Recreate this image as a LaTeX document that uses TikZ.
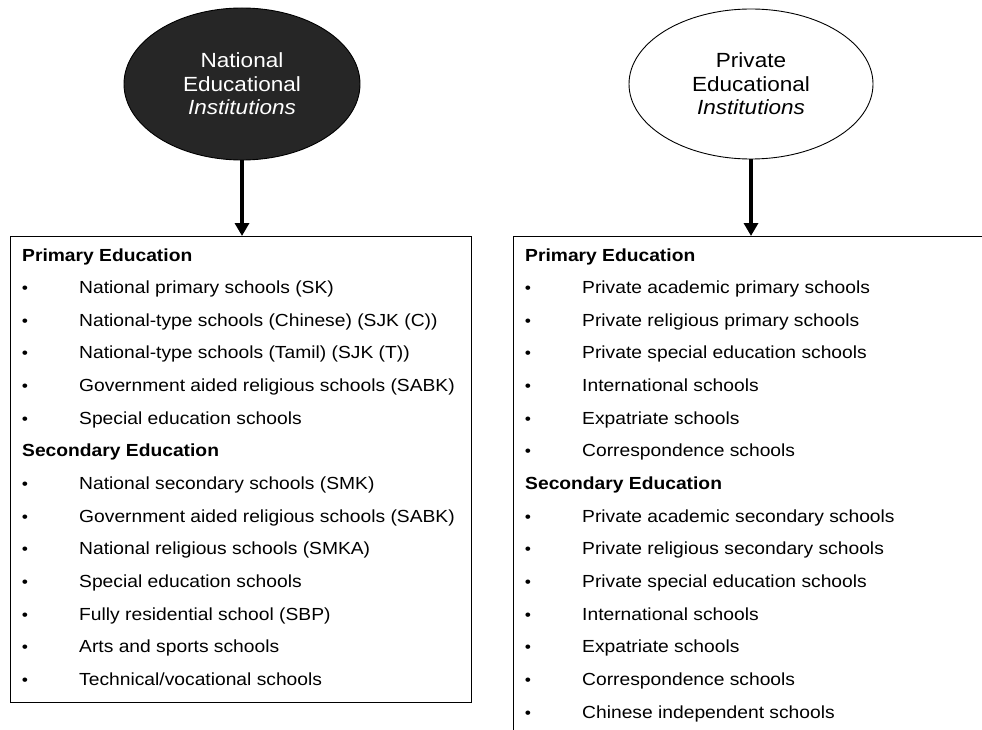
\documentclass[tikz,border=0pt]{standalone}
\usepackage{fontspec}
\setmainfont{Liberation Sans}[FakeStretch=1.1]
\usetikzlibrary{shapes.geometric,arrows.meta}
\begin{document}
\begin{tikzpicture}[x=1pt,y=-1pt,
  item/.style={anchor=base west,inner sep=0pt,font=\fontsize{17.5}{20}\selectfont},
  head/.style={anchor=base west,inner sep=0pt,font=\fontsize{17.5}{20}\selectfont\bfseries},
  bul/.style={anchor=base,inner sep=0pt,font=\fontsize{16}{18}\selectfont},
  listbox/.style={draw,line width=1.2pt,anchor=north west,inner sep=0pt},
  inst/.style={ellipse,draw,line width=0.9pt,inner sep=0pt,align=center,
    minimum width=236pt,minimum height=152pt,
    font=\fontsize{20.5}{23.5}\selectfont},
  arr/.style={line width=4pt,-{Triangle[length=13pt,width=14pt]}}]
\useasboundingbox (0,0) rectangle (982,730);
\clip (0,0) rectangle (982,730);
\fill[white] (0,0) rectangle (982,730);

% ellipses
\node[inst,fill=black!85,text=white] (lell) at (242,84)
  {National\\Educational\\\textit{Institutions}};
\node[inst,fill=white,minimum width=244pt,minimum height=150pt] (rell) at (751,84)
  {Private\\Educational\\\textit{Institutions}};

% boxes
\node[listbox,minimum width=461pt,minimum height=466pt] (lbox) at (10,236) {};
\node[listbox,minimum width=540pt,minimum height=560pt] (rbox) at (513,236) {};

% arrows
\draw[arr] (lell.south) -- (lell.south |- lbox.north);
\draw[arr] (rell.south) -- (rell.south |- rbox.north);

% left list
\node[head] (lh1) at (22,261) {Primary Education};
\foreach \t [count=\i from 1, evaluate=\i as \y using 261+32.65*\i] in
  {National primary schools (SK),
   National-type schools (Chinese) (SJK (C)),
   National-type schools (Tamil) (SJK (T)),
   Government aided religious schools (SABK),
   Special education schools}{
  \node[bul] (lb\i) at (25,\y) {•};
  \node[item] (li\i) at (79,\y) {\t};
}
\node[head] (lh2) at (22,456.9) {Secondary Education};
\foreach \t [count=\i from 7, evaluate=\i as \y using 261+32.65*\i] in
  {National secondary schools (SMK),
   Government aided religious schools (SABK),
   National religious schools (SMKA),
   Special education schools,
   Fully residential school (SBP),
   Arts and sports schools,
   Technical/vocational schools}{
  \node[bul] (lb\i) at (25,\y) {•};
  \node[item] (li\i) at (79,\y) {\t};
}

% right list
\node[head] (rh1) at (525,261) {Primary Education};
\foreach \t [count=\i from 1, evaluate=\i as \y using 261+32.65*\i] in
  {Private academic primary schools,
   Private religious primary schools,
   Private special education schools,
   International schools,
   Expatriate schools,
   Correspondence schools}{
  \node[bul] (rb\i) at (528,\y) {•};
  \node[item] (ri\i) at (582,\y) {\t};
}
\node[head] (rh2) at (525,489.55) {Secondary Education};
\foreach \t [count=\i from 8, evaluate=\i as \y using 261+32.65*\i] in
  {Private academic secondary schools,
   Private religious secondary schools,
   Private special education schools,
   International schools,
   Expatriate schools,
   Correspondence schools,
   Chinese independent schools}{
  \node[bul] (rb\i) at (528,\y) {•};
  \node[item] (ri\i) at (582,\y) {\t};
}
\end{tikzpicture}
\end{document}
